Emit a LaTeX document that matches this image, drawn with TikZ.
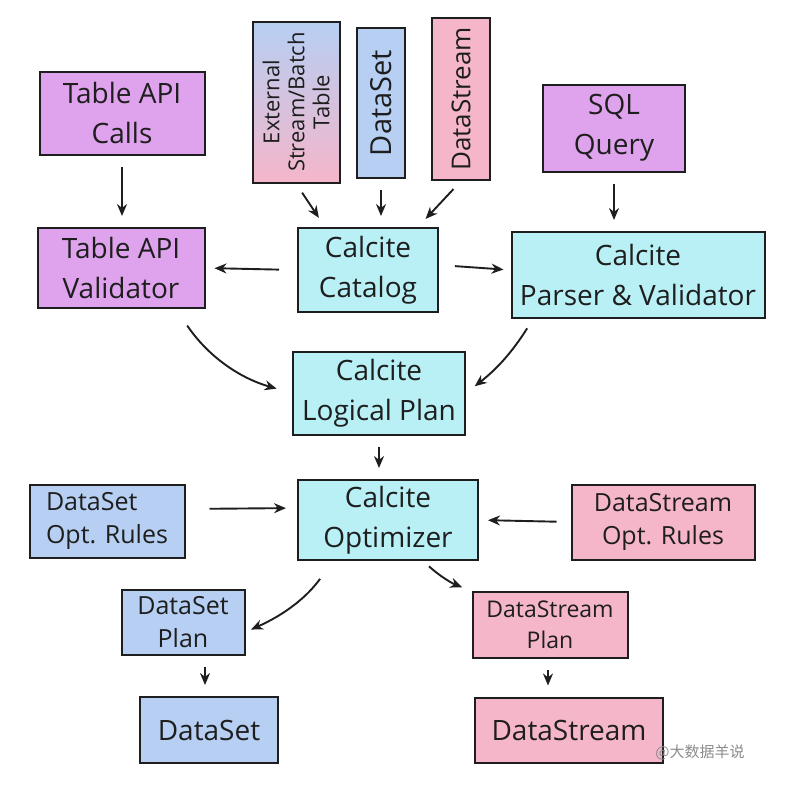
\documentclass[tikz,border=0pt]{standalone}
\usepackage{fontspec}
\setmainfont{Open Sans}
\newfontfamily\cjkfont{Noto Sans CJK SC}
\usetikzlibrary{arrows.meta}

\definecolor{purplefill}{HTML}{DFA2EC}
\definecolor{cyanfill}{HTML}{B8F0F6}
\definecolor{bluefill}{HTML}{B6CFF3}
\definecolor{pinkfill}{HTML}{F5B6CA}
\definecolor{inkcol}{HTML}{1E1E1E}

\begin{document}
\begin{tikzpicture}[%
    x=1pt,
    y=-1pt,
    ->,
    >={Stealth[length=12pt,width=10pt]},
    line width=1.9pt,
    draw=inkcol,
    shorten >=11pt,
    shorten <=11pt,
    box/.style={%
      rectangle,
      draw=inkcol,
      line width=2pt,
      align=center,
      inner sep=2pt,
      text=inkcol,
      font=\fontsize{28}{40}\selectfont
    },
    smallbox/.style={%
      box,
      font=\fontsize{25}{33}\selectfont
    },
    upbox/.style={%
      box,
      rotate=90,
      font=\fontsize{26}{27}\selectfont
    }
  ]
    \fill[white] (0,0) rectangle (794,785);
    \useasboundingbox (0,0) rectangle (794,785);

    % sources
    \node[box, fill=purplefill, minimum width=165pt, minimum height=83pt] (calls) at (122,113) {Table API\\Calls};
    \node[upbox, top color=bluefill, bottom color=pinkfill, minimum width=161pt, minimum height=87pt,
          font=\fontsize{22}{25}\selectfont] (extsrc) at (296,102) {External\\Stream/Batch\\Table};
    \node[upbox, fill=bluefill, minimum width=150pt, minimum height=48pt, font=\fontsize{29}{30}\selectfont] (dsrc) at (381,103) {DataSet};
    \node[upbox, fill=pinkfill, minimum width=162pt, minimum height=58pt] (dstrsrc) at (461,99) {DataStream};
    \node[box, fill=purplefill, minimum width=142pt, minimum height=87pt] (sql) at (614,128) {SQL\\Query};

    % calcite
    \node[box, fill=purplefill, minimum width=167pt, minimum height=80pt] (valid) at (121,268) {Table API\\Validator};
    \node[box, fill=cyanfill, minimum width=140pt, minimum height=84pt] (catalog) at (368,270) {Calcite\\Catalog};
    \node[box, fill=cyanfill, minimum width=253pt, minimum height=86pt] (parser) at (638,275) {Calcite\\Parser \& Validator};
    \node[box, fill=cyanfill, minimum width=172pt, minimum height=83pt] (logplan) at (379,393) {Calcite\\Logical Plan};

    % optimizer
    \node[smallbox, fill=bluefill, minimum width=155pt, minimum height=73pt, align=left] (dsrules) at (107,521) {DataSet\\Opt. Rules};
    \node[box, fill=cyanfill, minimum width=180pt, minimum height=80pt] (optim) at (388,520) {Calcite\\Optimizer};
    \node[smallbox, fill=pinkfill, minimum width=183pt, minimum height=75pt] (dstrrules) at (663,522) {DataStream\\Opt. Rules};

    % plans
    \node[smallbox, fill=bluefill, minimum width=123pt, minimum height=65pt] (dsplan) at (183,622) {DataSet\\Plan};
    \node[smallbox, fill=pinkfill, minimum width=155pt, minimum height=66pt, font=\fontsize{23}{31}\selectfont] (dstrplan) at (550,625) {DataStream\\Plan};
    \node[box, fill=bluefill, minimum width=138pt, minimum height=66pt] (dsout) at (209,730) {DataSet};
    \node[box, fill=pinkfill, minimum width=188pt, minimum height=65pt] (dstrout) at (569,730) {DataStream};

    \node[text=black!45, font=\cjkfont\fontsize{15}{15}\selectfont] (mark) at (700,752) {@大数据羊说};

    \path (calls.south)             edge (calls.south |- valid.north)
          (extsrc.west)             edge ([xshift=-43pt]catalog.north)
          (dsrc.west)               edge (dsrc.west |- catalog.north)
          (dstrsrc.west)            edge ([xshift=50pt]catalog.north)
          (sql.south)               edge (sql.south |- parser.north)
          (catalog.west)            edge [shorten <=18pt, shorten >=9pt] (valid.east)
          ([yshift=5pt]catalog.east) edge [shorten <=16pt, shorten >=7pt] ([yshift=5pt]parser.west)
          ([xshift=55pt]valid.south) edge [bend right=20, shorten <=20pt, shorten >=16pt] (logplan.west)
          ([xshift=-105pt]parser.south) edge [bend left=10] (logplan.east)
          (logplan.south)           edge (logplan.south |- optim.north)
          ([yshift=12pt]dsrules.east) edge [shorten <=24pt] ([yshift=12pt]optim.west)
          (dstrrules.west)          edge [shorten <=14pt, shorten >=9pt] (optim.east)
          ([xshift=-55pt]optim.south) edge [bend left=15, shorten <=22pt, shorten >=6pt] ([yshift=-10pt]dsplan.east)
          ([xshift=35pt]optim.south) edge [bend right=10, shorten <=8pt, shorten >=10pt] (dstrplan.north west)
          ([xshift=22pt]dsplan.south) edge ([xshift=22pt]dsplan.south |- dsout.north)
          ([xshift=-2pt]dstrplan.south) edge ([xshift=-2pt]dstrplan.south |- dstrout.north);
  \end{tikzpicture}
\end{document}
